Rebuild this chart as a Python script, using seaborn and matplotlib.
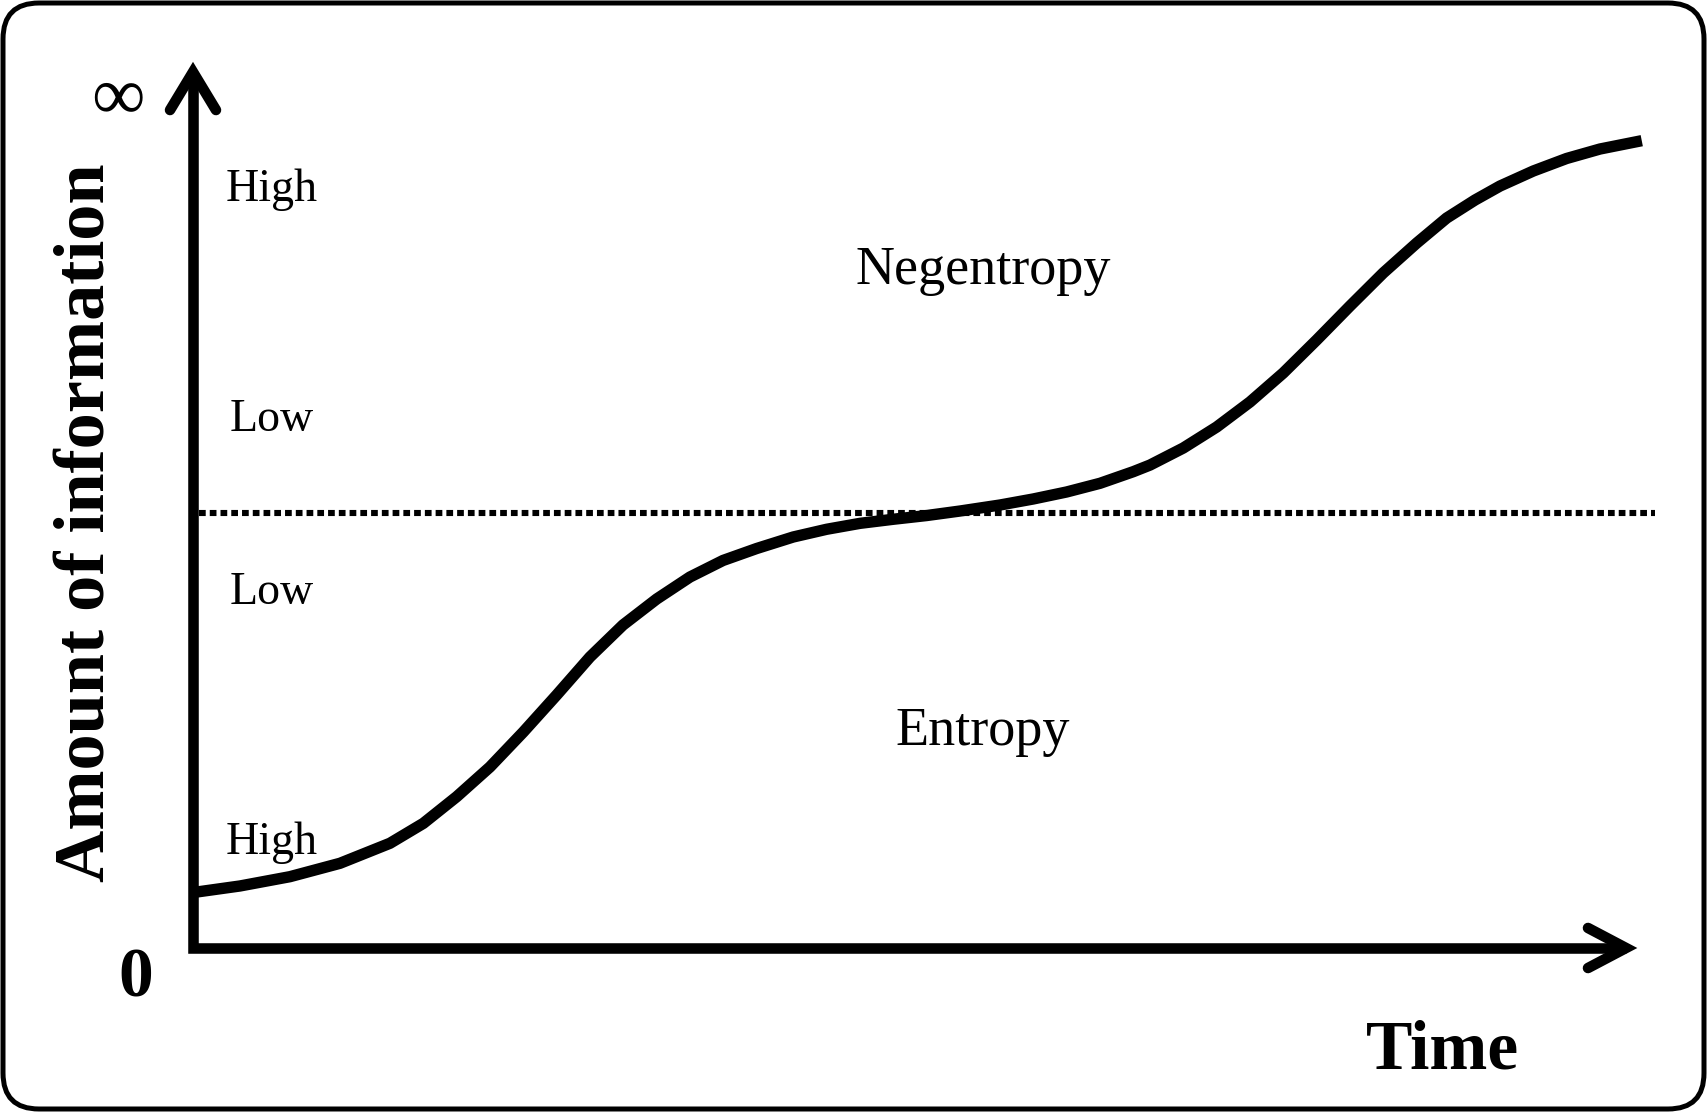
import numpy as np
import pandas as pd
import matplotlib
matplotlib.use("Agg")
import matplotlib.pyplot as plt
from matplotlib.patches import FancyBboxPatch
import seaborn as sns

# ---- data (normalised units: time 0..1, information 0..1) ----
time = [0.0, 0.0325, 0.0671, 0.1017, 0.1363, 0.1594, 0.1825, 0.2055, 0.2286,
        0.2517, 0.2747, 0.2976, 0.3209, 0.3439, 0.3668, 0.3901, 0.4154, 0.4385,
        0.4616, 0.4846, 0.5077, 0.5308, 0.5585, 0.5815, 0.6046, 0.6277, 0.6507,
        0.6623, 0.6853, 0.7084, 0.7315, 0.7545, 0.7776, 0.8007, 0.8237, 0.8469,
        0.8676, 0.8872, 0.9045, 0.9276, 0.9506, 0.9737, 1.0026]
information = [0.0626, 0.0700, 0.0805, 0.0956, 0.1182, 0.1407, 0.1708, 0.2043, 0.2438,
               0.2856, 0.3284, 0.3646, 0.3939, 0.4187, 0.4374, 0.4509, 0.4639, 0.4726,
               0.4793, 0.4839, 0.4881, 0.4932, 0.5000, 0.5068, 0.5147, 0.5245, 0.5376,
               0.5451, 0.5643, 0.5880, 0.6163, 0.6490, 0.6862, 0.7246, 0.7619, 0.7957,
               0.8239, 0.8442, 0.8600, 0.8770, 0.8911, 0.9018, 0.9112]
threshold = 0.491
side_labels = ["High", "Low", "Low", "High"]
side_label_levels = [0.856, 0.5966, 0.4013, 0.1192]
region_labels = ["Negentropy", "Entropy"]
region_label_levels = [0.7648, 0.2444]

df = pd.DataFrame({"Time": time, "Information": information})

sns.set_style("white")
plt.rcParams["font.family"] = ["Liberation Serif", "DejaVu Serif"]
plt.rcParams["text.color"] = "black"

W, H = 1707, 1112
fig = plt.figure(figsize=(W / 100, H / 100), dpi=100)

# frame axes in pixel units for the rounded border
bax = fig.add_axes([0, 0, 1, 1])
bax.set_xlim(0, W)
bax.set_ylim(0, H)
bax.axis("off")
bax.add_patch(FancyBboxPatch((3, 3), W - 6, H - 6,
                             boxstyle="round,pad=0,rounding_size=36",
                             fill=False, ec="black", lw=3.6))

ax = fig.add_axes([0, 0, 1, 1])
ax.patch.set_alpha(0)
x0px, x1px, y0px, y1px = 193, 1638, 948, 62
sx = x1px - x0px
sy = y0px - y1px
ax.set_xlim(-x0px / sx, (W - x0px) / sx)
ax.set_ylim((y0px - H) / sy, y0px / sy)
ax.axis("off")

# axes lines with arrows
lw_axis = 7.6
ytip, xtip = 0.9887, 0.9917
ax.plot([0, 0, xtip], [ytip, 0, 0], color="black", lw=lw_axis,
        solid_joinstyle="miter", solid_capstyle="butt")
ax.plot([-0.0159, 0, 0.0159], [0.9458, ytip, 0.9458], color="black",
        lw=lw_axis, solid_capstyle="round", solid_joinstyle="miter")
ax.plot([0.9654, xtip, 0.9654], [0.0226, 0, -0.0226], color="black",
        lw=lw_axis, solid_capstyle="round", solid_joinstyle="miter")

# dotted threshold
ax.plot([0.004, 1.012], [threshold, threshold], color="black", lw=4.4,
        linestyle=(0, (1.1, 0.66)), dash_capstyle="butt")

# curve
sns.lineplot(data=df, x="Time", y="Information", ax=ax, color="black",
             lw=8.2, solid_capstyle="butt", solid_joinstyle="round", sort=False)
ax.set_xlabel("")
ax.set_ylabel("")

# text
for lab, lv in zip(side_labels, side_label_levels):
    ax.text(0.0547, lv, lab, fontsize=33, ha="center", va="center", color="black")
for lab, lv in zip(region_labels, region_label_levels):
    ax.text(0.5467, lv, lab, fontsize=39, ha="center", va="center", color="black")
ax.text(-0.0523, 0.957, "∞", fontsize=54, ha="center", va="center", color="black")
ax.text(-0.0394, -0.0357, "0", fontsize=50, fontweight="bold", ha="center",
        va="center", color="black")
ax.text(0.8644, -0.1172, "Time", fontsize=50, fontweight="bold", ha="center",
        va="center", color="black")
ax.text(-0.0731, 0.4797, "Amount of information", fontsize=52, fontweight="bold",
        rotation=90, ha="center", va="center", color="black")

fig.savefig("out.png", dpi=100)
